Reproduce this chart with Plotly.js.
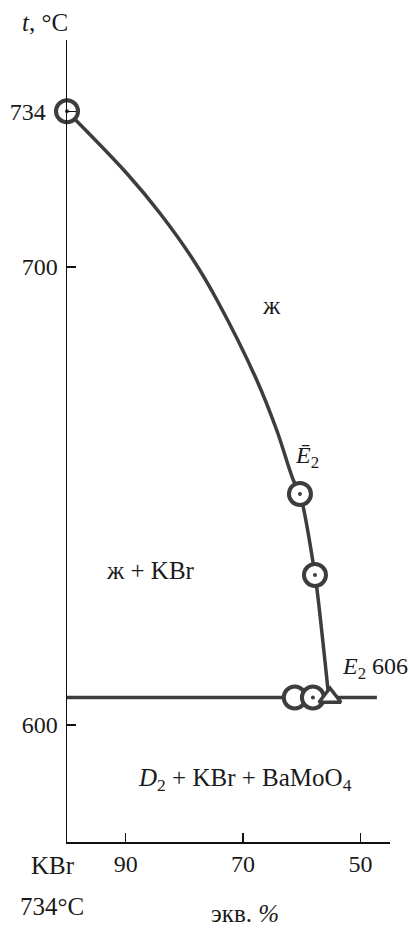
<!DOCTYPE html>
<html>
<head>
<meta charset="utf-8">
<script src="https://cdn.plot.ly/plotly-3.0.1.min.js"></script>
<style>
  html, body { margin: 0; padding: 0; background: #fff; }
  #chart { width: 409px; height: 928px; }
</style>
</head>
<body>
<div id="chart"></div>
<script>
// Liquidus of KBr in the KBr – BaMoO4 section (eq. %, KBr axis reversed)
const liquidusX = [100, 89.83, 84.16, 78.48, 74.50, 67.68, 64.28, 61.45, 60.31, 57.75, 57.19, 55.4];
const liquidusT = [734, 720.46, 711.73, 701.53, 692.9, 675.33, 664.41, 653.49, 650.44, 632.75, 627.29, 606];

// Eutectic horizontal at 606 °C
const eutecticX = [100, 47.2];
const eutecticT = [606, 606];

// Experimental points on the liquidus (with centre dot)
const pointX = [100, 60.31, 57.75];
const pointT = [734, 650.44, 632.75];

// Points on the eutectic line
const eutPlainX = [61.2];
const eutPlainT = [606];
const eutDotX = [58.1];
const eutDotT = [606];

// Eutectic E2
const e2X = [55.2];
const e2T = [606];

// Axis ticks
const yTicks = [600, 700, 734];
const yTickText = ['600', '700', '734\u2002'];
const xTicks = [90, 70, 50];
const xTickText = ['90', '70', '50'];

const ink = '#3d3d3d';
const serif = 'Liberation Serif';

const circleMarker = {
  symbol: 'circle', size: 22, color: '#ffffff',
  line: { color: ink, width: 4 }
};
const dotMarker = { symbol: 'circle', size: 4, color: ink, line: { width: 0 } };

const traces = [
  { x: eutecticX, y: eutecticT, mode: 'lines', line: { color: ink, width: 3.5 }, hoverinfo: 'skip' },
  { x: liquidusX, y: liquidusT, mode: 'lines', line: { color: ink, width: 3.5, shape: 'spline', smoothing: 1 }, hoverinfo: 'skip' },
  { x: eutPlainX, y: eutPlainT, mode: 'markers', marker: circleMarker, cliponaxis: false },
  { x: eutDotX, y: eutDotT, mode: 'markers', marker: circleMarker, cliponaxis: false },
  { x: eutDotX, y: eutDotT, mode: 'markers', marker: dotMarker, cliponaxis: false },
  { x: e2X, y: e2T, mode: 'markers', marker: { symbol: 'triangle-up', size: 19, color: '#ffffff', line: { color: ink, width: 3.5 } }, cliponaxis: false },
  { x: pointX, y: pointT, mode: 'markers', marker: circleMarker, cliponaxis: false },
  { x: pointX, y: pointT, mode: 'markers', marker: dotMarker, cliponaxis: false }
];

function f(size) { return { family: serif, size: size, color: '#1a1a1a' }; }

const annotations = [
  { xref: 'paper', yref: 'paper', x: -0.068, y: 1.0224, text: '<i>t</i>, °C', showarrow: false, font: f(25), xanchor: 'center', yanchor: 'middle' },
  { xref: 'x', yref: 'y', x: 65.13, y: 691.7, text: 'ж', showarrow: false, font: f(25), xanchor: 'center', yanchor: 'middle' },
  { xref: 'x', yref: 'y', x: 85.69, y: 633.8, text: 'ж + KBr', showarrow: false, font: f(25), xanchor: 'center', yanchor: 'middle' },
  { xref: 'x', yref: 'y', x: 59.17, y: 658.6, text: '<i>E\u0304</i><sub>2</sub>', showarrow: false, font: f(24), xanchor: 'center', yanchor: 'middle' },
  { xref: 'x', yref: 'y', x: 53.49, y: 612.4, text: '<i>E</i><sub>2</sub> 606', showarrow: false, font: f(24), xanchor: 'left', yanchor: 'middle' },
  { xref: 'x', yref: 'y', x: 69.68, y: 588, text: '<i>D</i><sub>2</sub> + KBr + BaMoO<sub>4</sub>', showarrow: false, font: f(25), xanchor: 'center', yanchor: 'middle' },
  { xref: 'paper', yref: 'paper', x: -0.0433, y: -0.0299, text: 'KBr', showarrow: false, font: f(25), xanchor: 'center', yanchor: 'middle' },
  { xref: 'paper', yref: 'paper', x: -0.0464, y: -0.081, text: '734°C', showarrow: false, font: f(25), xanchor: 'center', yanchor: 'middle' },
  { xref: 'paper', yref: 'paper', x: 0.551, y: -0.089, text: 'экв. <i>%</i>', showarrow: false, font: f(25), xanchor: 'center', yanchor: 'middle' }
];

const layout = {
  width: 409, height: 928,
  margin: { l: 67, r: 19, t: 40, b: 86 },
  paper_bgcolor: '#ffffff', plot_bgcolor: '#ffffff',
  showlegend: false,
  font: f(23),
  xaxis: {
    range: [100, 44.97], showgrid: false, zeroline: false,
    showline: true, linecolor: '#111', linewidth: 1.5,
    ticks: 'inside', ticklen: 9, tickwidth: 1.5, tickcolor: '#111',
    tickvals: xTicks, ticktext: xTickText, ticklabelstandoff: 0,
    tickfont: f(24)
  },
  yaxis: {
    range: [574.45, 749.56], showgrid: false, zeroline: false,
    showline: true, linecolor: '#111', linewidth: 1.5,
    ticks: 'inside', ticklen: 9, tickwidth: 1.5, tickcolor: '#111',
    tickvals: yTicks, ticktext: yTickText, ticklabelstandoff: 3,
    tickfont: f(24)
  },
  annotations: annotations
};

Plotly.newPlot('chart', traces, layout, { staticPlot: true, displayModeBar: false });
</script>
</body>
</html>
